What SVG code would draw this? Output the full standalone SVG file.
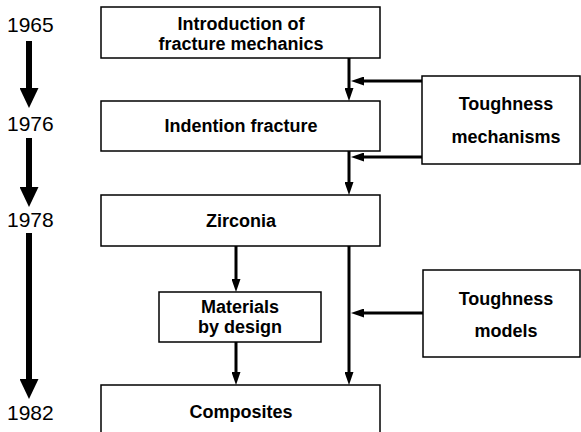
<svg xmlns="http://www.w3.org/2000/svg" width="581" height="432" viewBox="0 0 581 432">
<style>
.box{fill:#fff;stroke:#000;stroke-width:1.5}
.t{font-family:"Liberation Sans",Arial,sans-serif;font-weight:bold;font-size:18px;text-anchor:middle;fill:#000}
.yr{font-family:"Liberation Sans",Arial,sans-serif;font-size:21px;fill:#000}
.c{stroke:#000;stroke-width:3;fill:none;marker-end:url(#ah)}
.tl{stroke:#000;stroke-width:6;fill:none;marker-end:url(#big)}
</style>
<defs>
<marker id="ah" markerUnits="userSpaceOnUse" viewBox="0 0 13 9" refX="7" refY="4.5" markerWidth="13" markerHeight="9" orient="auto">
<path d="M0,0 L13,4.5 L0,9 z" fill="#000"/>
</marker>
<marker id="big" markerUnits="userSpaceOnUse" viewBox="0 0 20 19" refX="10" refY="9.5" markerWidth="20" markerHeight="19" orient="auto">
<path d="M0,0 L20,9.5 L0,19 z" fill="#000"/>
</marker>
</defs>
<g id="timeline">
<text class="yr" x="7" y="32">1965</text>
<text class="yr" x="7" y="131">1976</text>
<text class="yr" x="7" y="227">1978</text>
<text class="yr" x="7" y="420">1982</text>
<line class="tl" x1="29" y1="41" x2="29" y2="98"/>
<line class="tl" x1="29" y1="138" x2="29" y2="197"/>
<line class="tl" x1="29" y1="233" x2="29" y2="389"/>
</g>
<g id="intro">
<rect class="box" x="101" y="7" width="279" height="51"/>
<text class="t" x="241" y="30">Introduction of</text>
<text class="t" x="241" y="50">fracture mechanics</text>
</g>
<g id="indention">
<rect class="box" x="101" y="101" width="279" height="50"/>
<text class="t" x="241" y="132">Indention fracture</text>
</g>
<g id="zirconia">
<rect class="box" x="101" y="195" width="279" height="51"/>
<text class="t" x="241" y="227">Zirconia</text>
</g>
<g id="materials">
<rect class="box" x="159" y="292" width="162" height="50"/>
<text class="t" x="240" y="313">Materials</text>
<text class="t" x="240" y="333">by design</text>
</g>
<g id="composites">
<rect class="box" x="101" y="385" width="279" height="60"/>
<text class="t" x="241" y="418">Composites</text>
</g>
<g id="mechanisms">
<rect class="box" x="422" y="76" width="158" height="88"/>
<text class="t" x="506" y="110">Toughness</text>
<text class="t" x="506" y="143">mechanisms</text>
</g>
<g id="models">
<rect class="box" x="423" y="270" width="157" height="87"/>
<text class="t" x="506" y="305">Toughness</text>
<text class="t" x="506" y="337">models</text>
</g>
<g id="connectors">
<line class="c" x1="349" y1="58" x2="349" y2="95"/>
<line class="c" x1="349" y1="151" x2="349" y2="189"/>
<line class="c" x1="349" y1="246" x2="349" y2="379"/>
<line class="c" x1="422" y1="81" x2="357" y2="81"/>
<line class="c" x1="422" y1="157" x2="357" y2="157"/>
<line class="c" x1="423" y1="313" x2="357" y2="313"/>
<line class="c" x1="236" y1="246" x2="236" y2="286"/>
<line class="c" x1="236" y1="342" x2="236" y2="379"/>
</g>
</svg>
